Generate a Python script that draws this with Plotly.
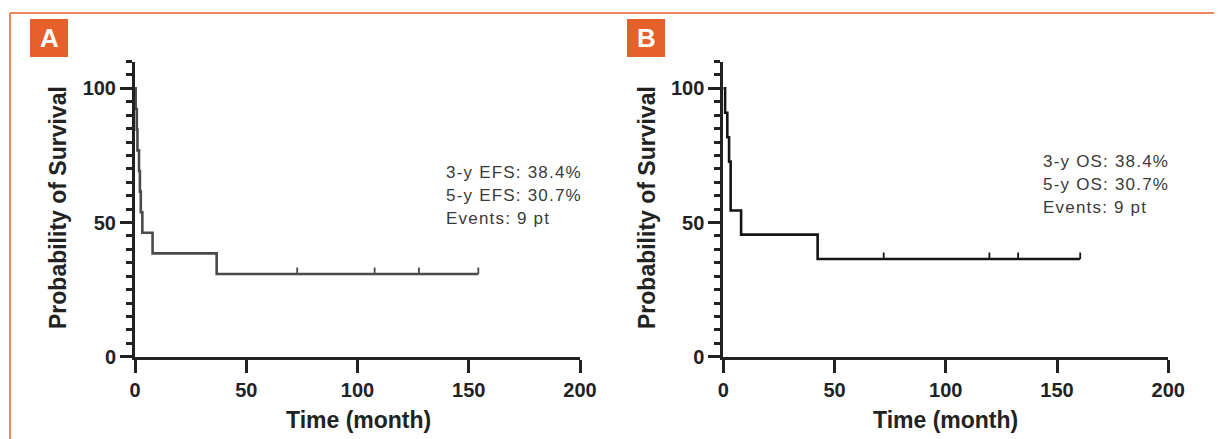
import plotly.graph_objects as go

# the page body keeps an 8px default margin; the figure reaches the window's right/bottom edges
PAGE_W, PAGE_H = 1222, 439
BODY = 8
W, H = PAGE_W - BODY, PAGE_H - BODY

# ---------- data ----------
# Panel A (EFS)
efs_event_times = [0.3, 0.8, 1.1, 1.8, 2.2, 2.6, 3.3, 7.9, 36.7]
efs_levels = [92.3, 84.6, 76.9, 69.2, 61.5, 53.8, 46.2, 38.5, 30.8]
efs_end = 154.3
efs_censored = [72.9, 107.7, 127.6, 154.3]
efs_text = ["3-y EFS: 38.4%", "5-y EFS: 30.7%", "Events: 9 pt"]

# Panel B (OS)
os_event_times = [0.8, 1.8, 2.6, 3.3, 8.0, 42.4]
os_levels = [90.9, 81.8, 72.7, 54.5, 45.5, 36.4]
os_end = 160.4
os_censored = [72.1, 119.6, 132.5, 160.4]
os_text = ["3-y OS: 38.4%", "5-y OS: 30.7%", "Events: 9 pt"]

x_ticks = [0, 50, 100, 150, 200]
y_ticks = [0, 50, 100]
x_title = "Time (month)"
y_title = "Probability of Survival"
panel_labels = ["A", "B"]

ORANGE = "#E5602B"


def px_x(p):
    return (p - BODY) / W


def px_y(p):
    return 1 - (p - BODY) / H


fig = go.Figure()

panels = [
    dict(times=efs_event_times, levels=efs_levels, end=efs_end, cens=efs_censored,
         text=efs_text, color="#4a4a4a", x0=135.0, x1=580.0, xa="x", ya="y",
         txt_x=444, txt_y=[172, 195, 218], ytitle_x=58, xtitle_x=358, box_x=30),
    dict(times=os_event_times, levels=os_levels, end=os_end, cens=os_censored,
         text=os_text, color="#151515", x0=723.3, x1=1168.3, xa="x2", ya="y2",
         txt_x=1041, txt_y=[161, 184, 207], ytitle_x=647, xtitle_x=945, box_x=627),
]

y0_px, ytop_px = 356.7, 61.5

for i, p in enumerate(panels):
    xs = [0] + p["times"] + [p["end"]]
    ys = [100] + p["levels"] + [p["levels"][-1]]
    fig.add_trace(go.Scatter(x=xs, y=ys, mode="lines", line=dict(color=p["color"], width=2.6, shape="hv"),
                             xaxis=p["xa"], yaxis=p["ya"], showlegend=False, hoverinfo="skip"))
    cens_y = [p["levels"][-1]] * len(p["cens"])
    fig.add_trace(go.Scatter(x=p["cens"], y=cens_y, mode="markers",
                             marker=dict(size=1, opacity=0),
                             error_y=dict(type="data", symmetric=False, array=[2.4] * len(p["cens"]),
                                          arrayminus=[0] * len(p["cens"]), width=0, thickness=1.8,
                                          color=p["color"]),
                             xaxis=p["xa"], yaxis=p["ya"], showlegend=False, hoverinfo="skip"))

    suffix = "" if i == 0 else "2"
    tickfont = dict(family="Liberation Sans", size=20, color="#222", weight="bold")
    fig.layout["xaxis" + suffix] = dict(
        domain=[px_x(p["x0"]), px_x(p["x1"])], range=[0, 200], anchor="y" + suffix,
        tickvals=x_ticks, ticks="outside", ticklen=13, tickwidth=3, tickcolor="#222",
        showline=True, linewidth=3, linecolor="#222", showgrid=False, zeroline=False,
        tickfont=tickfont, fixedrange=True, automargin=False,
    )
    fig.layout["yaxis" + suffix] = dict(
        domain=[px_y(y0_px), px_y(ytop_px)], range=[0, 110], anchor="x" + suffix,
        tickvals=y_ticks, ticks="outside", ticklen=12, tickwidth=3, tickcolor="#222",
        minor=dict(dtick=5, ticks="outside", ticklen=6, tickwidth=3, tickcolor="#222"),
        showline=True, linewidth=3, linecolor="#222", showgrid=False, zeroline=False,
        tickfont=tickfont, fixedrange=True, automargin=False,
    )

    # stats text
    for line, ty in zip(p["text"], p["txt_y"]):
        fig.add_annotation(x=px_x(p["txt_x"]), y=px_y(ty), xref="paper", yref="paper",
                           xanchor="left", yanchor="middle", showarrow=False,
                           text='<span style="letter-spacing:1.2px">' + line + '</span>',
                           font=dict(family="Liberation Sans", size=17, color="#3a3a3a"))
    # axis titles
    fig.add_annotation(x=px_x(p["ytitle_x"]), y=px_y(208), xref="paper", yref="paper",
                       textangle=-90, showarrow=False, xanchor="center", yanchor="middle",
                       text=y_title,
                       font=dict(family="Liberation Sans", size=23, color="#222", weight="bold"))
    fig.add_annotation(x=px_x(p["xtitle_x"]), y=px_y(420), xref="paper", yref="paper",
                       showarrow=False, xanchor="center", yanchor="middle", text=x_title,
                       font=dict(family="Liberation Sans", size=23, color="#222", weight="bold"))
    # panel label box
    fig.add_shape(type="rect", xref="paper", yref="paper",
                  x0=px_x(p["box_x"]), x1=px_x(p["box_x"] + 38), y0=px_y(57), y1=px_y(19),
                  fillcolor=ORANGE, line=dict(width=0), layer="above")
    fig.add_annotation(x=px_x(p["box_x"] + 19), y=px_y(38.5), xref="paper", yref="paper",
                       showarrow=False, xanchor="center", yanchor="middle", text=panel_labels[i],
                       font=dict(family="Liberation Sans", size=26, color="white", weight="bold"))

# orange frame
fig.add_shape(type="line", xref="paper", yref="paper", x0=px_x(10), x1=1, y0=px_y(13), y1=px_y(13),
              line=dict(color=ORANGE, width=1.5))
fig.add_shape(type="line", xref="paper", yref="paper", x0=px_x(10), x1=px_x(10), y0=px_y(13), y1=0,
              line=dict(color=ORANGE, width=1.5))

fig.update_layout(width=W, height=H, margin=dict(l=0, r=0, t=0, b=0),
                  paper_bgcolor="white", plot_bgcolor="white", showlegend=False)

fig.write_html("out.html")
